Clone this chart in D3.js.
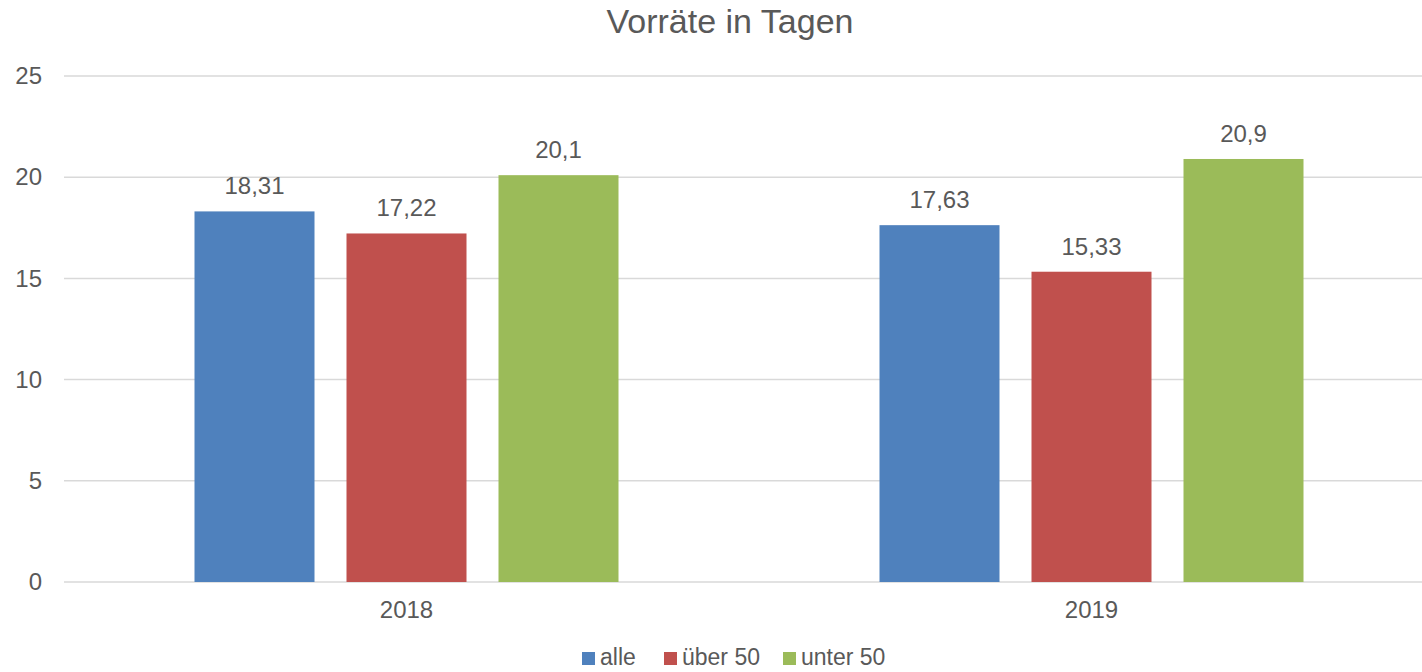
<!DOCTYPE html>
<html>
<head>
<meta charset="utf-8">
<script src="https://cdn.jsdelivr.net/npm/d3@7"></script>
<style>
  body { margin: 0; background: #fff; }
  svg text { font-family: "Liberation Sans", Arial, sans-serif; fill: #595959; }
</style>
</head>
<body>
<div id="chart"></div>
<script>
const years = ["2018", "2019"];
const seriesNames = ["alle", "über 50", "unter 50"];
const alle = [18.31, 17.63];
const ueber50 = [17.22, 15.33];
const unter50 = [20.1, 20.9];
const yTicks = [0, 5, 10, 15, 20, 25];
const colors = ["#4F81BD", "#C0504D", "#9BBB59"];

const width = 1422, height = 672;
const values = [alle, ueber50, unter50];

const svg = d3.select("#chart")
  .append("svg")
    .attr("width", width)
    .attr("height", height);

let x = d3.scaleBand()
  .domain(years)
  .range([64, 1434])
  .paddingInner(0)
  .paddingOuter(0);

let xs = d3.scaleBand()
  .domain(seriesNames)
  .range([130.5, 685 - 130.5])
  .paddingInner(32 / 152);

let y = d3.scaleLinear()
  .domain([0, 25])
  .range([582, 76]);

// gridlines
svg.append("g")
  .selectAll("line")
  .data(yTicks)
  .join("line")
    .attr("x1", 64)
    .attr("x2", width)
    .attr("y1", d => y(d))
    .attr("y2", d => y(d))
    .attr("stroke", "#D9D9D9")
    .attr("stroke-width", 1.5);

// y axis labels
svg.append("g")
  .attr("transform", "translate(42,0)")
  .call(d3.axisLeft(y).tickValues(yTicks).tickSize(0).tickPadding(0))
  .call(g => g.select(".domain").remove())
  .selectAll("text")
    .style("font-size", "24px")
    .attr("fill", "#595959");

// bars
const groups = svg.append("g")
  .selectAll("g")
  .data(years)
  .join("g")
    .attr("transform", d => "translate(" + x(d) + ",0)");

groups.selectAll("rect")
  .data((d, i) => seriesNames.map((s, j) => ({s: s, v: values[j][i], c: colors[j]})))
  .join("rect")
    .attr("x", d => xs(d.s))
    .attr("width", xs.bandwidth())
    .attr("y", d => y(d.v))
    .attr("height", d => y(0) - y(d.v))
    .attr("fill", d => d.c);

groups.selectAll("text")
  .data((d, i) => seriesNames.map((s, j) => ({s: s, v: values[j][i]})))
  .join("text")
    .attr("x", d => xs(d.s) + xs.bandwidth() / 2)
    .attr("y", d => y(d.v) - 17)
    .attr("text-anchor", "middle")
    .style("font-size", "24px")
    .attr("fill", "#404040")
    .text(d => String(d.v).replace(".", ","));

// x axis labels
svg.append("g")
  .attr("transform", "translate(0,582)")
  .call(d3.axisBottom(x).tickSize(0).tickPadding(19))
  .call(g => g.select(".domain").remove())
  .selectAll("text")
    .style("font-size", "24px")
    .attr("fill", "#595959");

// title
svg.append("text")
  .attr("x", 730)
  .attr("y", 33)
  .attr("text-anchor", "middle")
  .style("font-size", "34px")
  .text("Vorräte in Tagen");

// legend (reference is clipped at the bottom; kept just inside the frame)
const legendX = [582, 664, 783];
const legend = svg.append("g")
  .selectAll("g")
  .data(seriesNames)
  .join("g")
    .attr("transform", (d, i) => "translate(" + legendX[i] + ",652)");
legend.append("rect")
  .attr("width", 13)
  .attr("height", 13)
  .attr("fill", (d, i) => colors[i]);
legend.append("text")
  .attr("x", 18)
  .attr("y", 13)
  .style("font-size", "23px")
  .text(d => d);
</script>
</body>
</html>
